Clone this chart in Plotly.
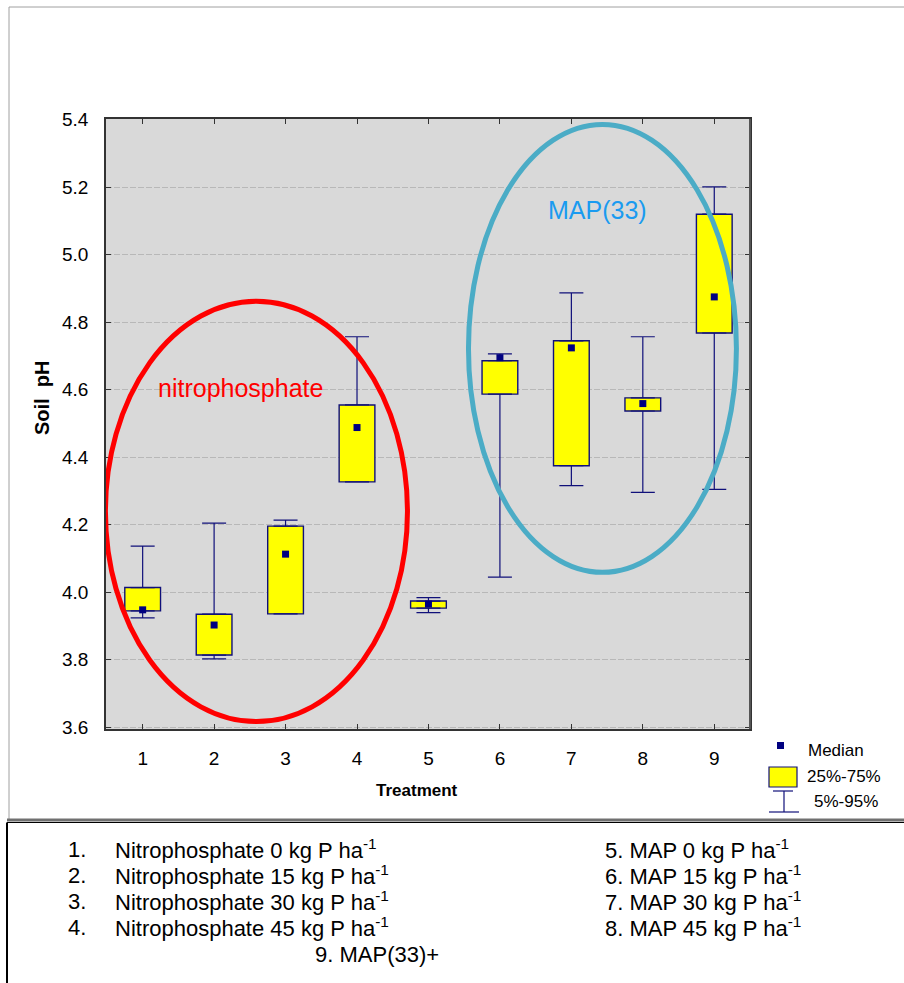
import plotly.graph_objects as go

# ---------------- data ----------------
treatments = [1, 2, 3, 4, 5, 6, 7, 8, 9]
tick_text = ["1", "2", "3", "4", "5", "6", "7", "8", "9"]
q25 = [3.945, 3.814, 3.936, 4.327, 3.953, 4.587, 4.375, 4.537, 4.768]
q75 = [4.014, 3.935, 4.196, 4.555, 3.974, 4.686, 4.745, 4.576, 5.120]
median = [3.948, 3.903, 4.113, 4.488, 3.965, 4.695, 4.724, 4.559, 4.875]
p05 = [3.924, 3.803, 3.936, 4.327, 3.940, 4.045, 4.316, 4.296, 4.305]
p95 = [4.137, 4.205, 4.214, 4.757, 3.984, 4.706, 4.887, 4.757, 5.201]
y_ticks = [3.6, 3.8, 4.0, 4.2, 4.4, 4.6, 4.8, 5.0, 5.2, 5.4]

legend_labels = ["Median", "25%-75%", "5%-95%"]
group_labels = ["nitrophosphate", "MAP(33)"]
list_left_nums = ["1.", "2.", "3.", "4."]
list_left = ["Nitrophosphate 0 kg P ha<sup>-1</sup>",
             "Nitrophosphate 15 kg P ha<sup>-1</sup>",
             "Nitrophosphate 30 kg P ha<sup>-1</sup>",
             "Nitrophosphate 45 kg P ha<sup>-1</sup>"]
list_right = ["5. MAP 0 kg P ha<sup>-1</sup>",
              "6. MAP 15 kg P ha<sup>-1</sup>",
              "7. MAP 30 kg P ha<sup>-1</sup>",
              "8. MAP 45 kg P ha<sup>-1</sup>"]
list_last = "9. MAP(33)+"

# ---------------- layout geometry ----------------
W, H = 904, 983
L, R, T, B = 106, 750, 119, 729   # plot area in pixels
FONT = "Liberation Sans, Arial, sans-serif"
NAVY = "#10107a"


def px(x):
    return (x - L) / (R - L)


def py(y):
    return (B - y) / (B - T)


fig = go.Figure()

# boxes (25%-75%)
fig.add_trace(go.Bar(
    x=treatments,
    y=[hi - lo for hi, lo in zip(q75, q25)],
    base=q25,
    width=0.5,
    marker=dict(color="#ffff00", line=dict(color=NAVY, width=1.4)),
    hoverinfo="skip",
))

# upper whiskers
fig.add_trace(go.Scatter(
    x=treatments, y=q75, mode="markers",
    marker=dict(size=1, opacity=0),
    error_y=dict(type="data", symmetric=False,
                 array=[h - q for h, q in zip(p95, q75)],
                 arrayminus=[0] * len(treatments),
                 width=12, thickness=1.2, color=NAVY),
    hoverinfo="skip",
))
# lower whiskers
fig.add_trace(go.Scatter(
    x=treatments, y=q25, mode="markers",
    marker=dict(size=1, opacity=0),
    error_y=dict(type="data", symmetric=False,
                 array=[0] * len(treatments),
                 arrayminus=[q - l for q, l in zip(q25, p05)],
                 width=12, thickness=1.2, color=NAVY),
    hoverinfo="skip",
))
# medians
fig.add_trace(go.Scatter(
    x=treatments, y=median, mode="markers",
    marker=dict(symbol="square", size=7, color="#000080"),
))

shapes = []
# group ellipses
shapes.append(dict(type="circle", xref="x", yref="y",
                   x0=0.479, x1=4.706, y0=3.617, y1=4.862,
                   line=dict(color="#ff0000", width=5), layer="above"))
shapes.append(dict(type="circle", xref="x", yref="y",
                   x0=5.56, x1=9.31, y0=4.059, y1=5.386,
                   line=dict(color="#4bacc6", width=5), layer="above"))

# legend symbols
shapes.append(dict(type="rect", xref="paper", yref="paper",
                   x0=px(769), x1=px(797), y0=py(787), y1=py(767),
                   fillcolor="#ffff00", line=dict(color=NAVY, width=1.2)))
for (x0, y0, x1, y1) in [(773, 791, 793, 791), (784, 791, 784, 812), (769, 812, 799, 812)]:
    shapes.append(dict(type="line", xref="paper", yref="paper",
                       x0=px(x0), y0=py(y0), x1=px(x1), y1=py(y1),
                       line=dict(color=NAVY, width=1.2)))
shapes.append(dict(type="rect", xref="paper", yref="paper",
                   x0=px(777), x1=px(784), y0=py(749), y1=py(742),
                   fillcolor="#000080", line=dict(width=0)))

# frames
frame_lines = [
    ((9, 7), (904, 7), "#a0a0a0", 1),
    ((9, 7), (9, 819), "#a0a0a0", 1),
    ((7, 820), (904, 820), "#707070", 3),
    ((7, 822.5), (7, 983), "#000000", 2),
    ((7, 822.5), (904, 822.5), "#000000", 1),
    ((750, 119), (750, 729), "#555555", 2),
]
for (a, b, c, w) in frame_lines:
    shapes.append(dict(type="line", xref="paper", yref="paper",
                       x0=px(a[0]), y0=py(a[1]), x1=px(b[0]), y1=py(b[1]),
                       line=dict(color=c, width=w), layer="above"))

annotations = []


def ann(text, x, y, size, color="#000", xanchor="center", bold=False, angle=0):
    annotations.append(dict(
        text=f"<b>{text}</b>" if bold else text,
        x=px(x), y=py(y), xref="paper", yref="paper",
        xanchor=xanchor, yanchor="middle", showarrow=False,
        textangle=angle, font=dict(family=FONT, size=size, color=color)))


ann("Soil&nbsp; pH", 42, 398, 20, bold=True, angle=-90)
ann("Treatment", 417, 790, 17, bold=True)
ann(group_labels[0], 240, 388, 25, color="#ff0000")
ann(group_labels[1], 597, 210, 25, color="#1a9bf0")
ann(legend_labels[0], 806, 750, 17, xanchor="left")
ann(legend_labels[1], 805, 776, 17, xanchor="left")
ann(legend_labels[2], 812, 801, 17, xanchor="left")

line_y = [849, 875, 901, 927]
for i in range(4):
    ann(list_left_nums[i], 66, line_y[i], 22, xanchor="left")
    ann(list_left[i], 113, line_y[i], 22, xanchor="left")
    ann(list_right[i], 603, line_y[i], 22, xanchor="left")
ann(list_last, 313, 954, 22, xanchor="left")

fig.update_layout(
    width=W, height=H,
    margin=dict(l=L, r=W - R, t=T, b=H - B, pad=0),
    paper_bgcolor="white", plot_bgcolor="#d9d9d9",
    showlegend=False,
    shapes=shapes, annotations=annotations,
    font=dict(family=FONT, color="#000"),
)
fig.update_xaxes(
    range=[0.487, 9.5], tickmode="array", tickvals=treatments, ticktext=tick_text,
    ticks="inside", ticklen=5, tickcolor="#333", tickwidth=1,
    showline=True, linecolor="#333", linewidth=1.5, mirror="ticks",
    showgrid=False, zeroline=False, ticklabelstandoff=11,
    tickfont=dict(family=FONT, size=19, color="#000"),
)
fig.update_yaxes(
    range=[3.595, 5.402], tickmode="array", tickvals=y_ticks,
    ticktext=[f"{v:.1f}" for v in y_ticks],
    ticks="inside", ticklen=5, tickcolor="#333", tickwidth=1,
    showline=True, linecolor="#333", linewidth=1.5, mirror="ticks",
    showgrid=True, gridcolor="#b8b8b8", gridwidth=1, griddash="6px,2px",
    zeroline=False, ticklabelstandoff=12,
    tickfont=dict(family=FONT, size=19, color="#000"),
)

fig.write_html("out.html")
